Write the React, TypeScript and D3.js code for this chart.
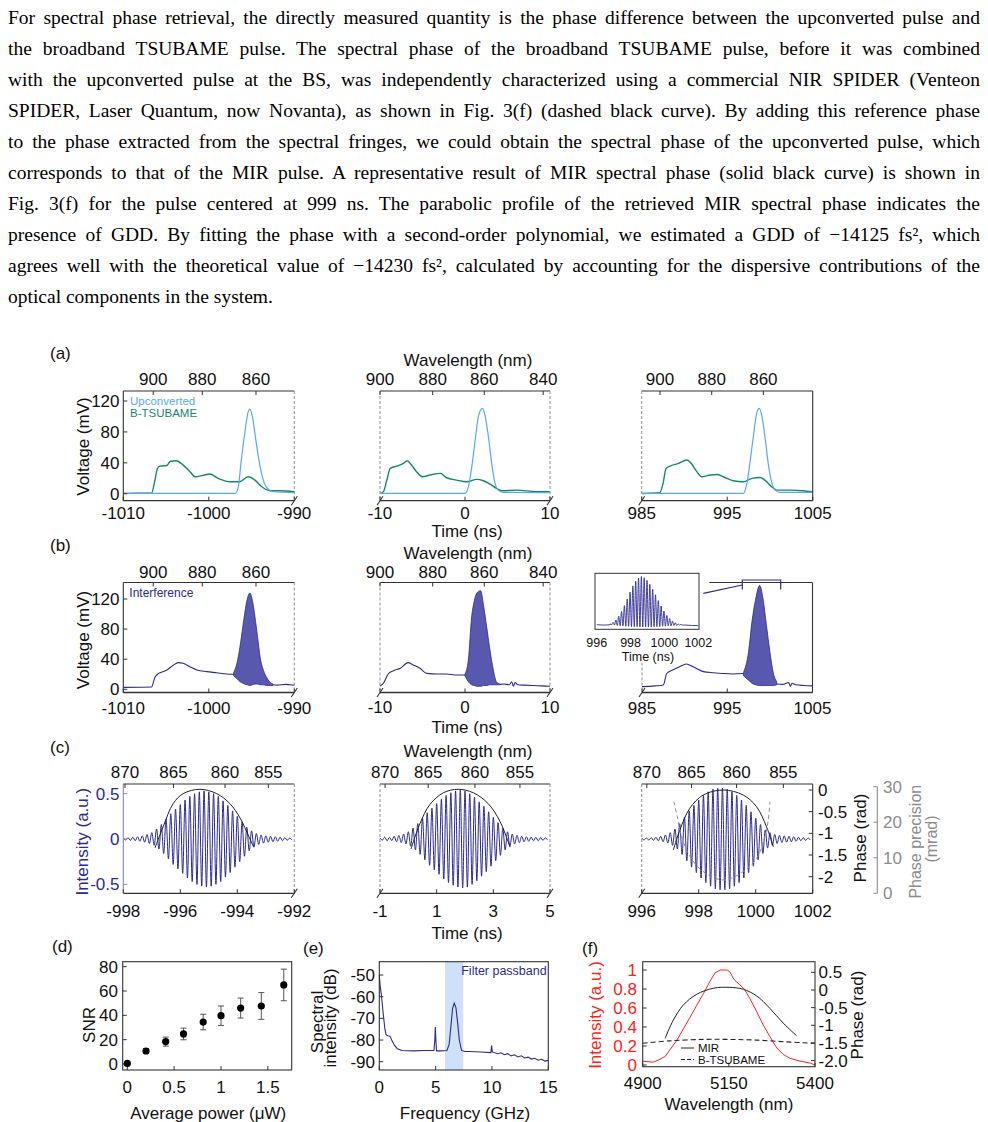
import React, { useLayoutEffect, useRef } from "react";
import * as d3 from "d3";

type P = [number, number];
type E = [number, number, number];

const SANS = "'Liberation Sans', Arial, Helvetica, sans-serif";
const SERIF = "'Liberation Serif', 'Times New Roman', serif";
const AX = "#333333";
const DASH = "#9a9a9a";
const BLUE = "#2b2b8f";
const LBLUE = "#5aa7f2";
const TEAL = "#17876b";
const RED = "#ff2020";
const GRAY = "#8c8c8c";
const FS = 17;

// ---------------- paragraph ----------------
const paraLines = [
  "For spectral phase retrieval, the directly measured quantity is the phase difference between the upconverted pulse and",
  "the broadband TSUBAME pulse. The spectral phase of the broadband TSUBAME pulse, before it was combined",
  "with the upconverted pulse at the BS, was independently characterized using a commercial NIR SPIDER (Venteon",
  "SPIDER, Laser Quantum, now Novanta), as shown in Fig. 3(f) (dashed black curve). By adding this reference phase",
  "to the phase extracted from the spectral fringes, we could obtain the spectral phase of the upconverted pulse, which",
  "corresponds to that of the MIR pulse. A representative result of MIR spectral phase (solid black curve) is shown in",
  "Fig. 3(f) for the pulse centered at 999 ns. The parabolic profile of the retrieved MIR spectral phase indicates the",
  "presence of GDD. By fitting the phase with a second-order polynomial, we estimated a GDD of \u221214125 fs\u00b2, which",
  "agrees well with the theoretical value of \u221214230 fs\u00b2, calculated by accounting for the dispersive contributions of the",
  "optical components in the system.",
];

// ---------------- shared ticks ----------------
const voltTicks = [0, 40, 80, 120];
const timeTicksL = [-1010, -1000, -990];
const timeTicksM = [-10, 0, 10];
const timeTicksR = [985, 995, 1005];
const wlTicksLR = [900, 880, 860];
const wlTicksM = [900, 880, 860, 840];
const wlTimeL = [-1006.5, -1000.76, -994.48];
const wlTimeM = [-10, -3.8, 2.27, 9.2];
const wlTimeR = [987.14, 993.19, 999.23];

// ---------------- (a) ----------------
const aL_tsu: P[] = [[-1010,0.5],[-1008.5,0.8],[-1006.7,0.6],[-1006.3,17.7],[-1006.0,33],[-1005.7,35.8],[-1004.9,36.5],[-1004.5,42],[-1003.8,42.7],[-1003.0,37],[-1002.2,28.5],[-1001.6,22],[-1000.6,24],[-999.9,25.5],[-998.9,20],[-997.5,15.5],[-996.4,15.5],[-995.4,22],[-994.6,17.7],[-993.8,9],[-992.8,3.9],[-991.7,3.9],[-990,2.6]];
const aL_up: P[] = [[-1010,0.4],[-998,0.4],[-996.9,0.6],[-996.55,9],[-996.2,43.6],[-995.8,78],[-995.4,106],[-995.2,109.6],[-994.9,99.7],[-994.5,69.5],[-994.0,35],[-993.5,13.4],[-993.0,5.6],[-992.5,2.6],[-990,1.3]];
const aM_tsu: P[] = [[-10,0.4],[-9.6,2.6],[-9.2,17.7],[-8.8,32.8],[-8.0,35.8],[-7.25,39.3],[-6.8,42.7],[-6.3,37.1],[-5.7,28.5],[-5.0,22],[-4.1,24.2],[-2.9,26.3],[-2.16,20.7],[-1.0,17.7],[0.2,15.5],[1.37,18.6],[2.16,16.8],[2.94,12.5],[3.7,6.9],[4.3,3.9],[6.1,4.7],[8.4,2.6],[10,2.6]];
const aM_up: P[] = [[-10,0.4],[-1,0.4],[0,0.6],[0.4,9],[0.8,35],[1.2,69.5],[1.57,99.7],[2.04,110.5],[2.35,101.9],[2.75,73.8],[3.14,39.3],[3.53,13.4],[3.9,4.7],[4.5,1.7],[10,1.3]];
const aR_tsu: P[] = [[985,0.4],[987.1,1.3],[987.5,13.4],[987.85,32.8],[988.3,35.8],[989.3,39.3],[990.3,43.6],[990.85,38.4],[991.4,29.3],[992.0,22],[993.0,24.2],[993.8,25],[994.55,22],[995.7,16.8],[996.9,15.5],[997.9,19.9],[998.85,21.1],[999.4,17.7],[1000.2,9],[1000.8,4.7],[1002.3,4.7],[1003.9,3.9],[1005,2.6]];
const aR_up: P[] = [[985,0.4],[996,0.4],[996.9,0.6],[997.3,13.4],[997.7,43.6],[998.1,78],[998.45,104],[998.76,110.5],[999.07,99.7],[999.46,69.5],[999.85,35],[1000.24,13.4],[1000.6,4.7],[1001.2,1.7],[1005,1.7]];

// ---------------- (b) ----------------
const bL_pre: P[] = [[-1010,2.5],[-1008,2.7],[-1006.7,3],[-1006.3,16],[-1006,20],[-1005.7,22],[-1004.9,25.7],[-1004.15,32],[-1003.6,35.4],[-1003,34.5],[-1002.2,30],[-1001.4,25.7],[-1000.25,23.5],[-999.1,22],[-997.9,20.4],[-997.1,20]];
const bL_env: E[] = [[-997.1,22,18],[-996.7,35,14],[-996.35,57,10],[-996.0,85,8],[-995.8,101,7],[-995.5,120,6],[-995.2,128,5],[-994.9,118,6],[-994.6,96,7],[-994.3,70,7],[-994.0,43,6],[-993.6,25,6],[-993.2,15,5],[-992.8,9,5],[-992.5,7,5]];
const bL_post: P[] = [[-992.5,6],[-992,5.5],[-991,6.5],[-990.5,6],[-990,5.5]];
const bM_pre: P[] = [[-10,4.4],[-9.6,8],[-9.0,21],[-8.4,24.8],[-7.6,27.9],[-6.7,35.4],[-6.1,32.3],[-5.3,27.9],[-4.5,21.2],[-3.3,20.4],[-2.2,20.4],[-1.0,19],[0,19]];
const bM_env: E[] = [[0,20,18],[0.4,40,10],[0.78,96,6],[1.1,118,5],[1.4,128,4],[1.84,131,4],[2.2,110,5],[2.55,83,5],[2.9,55,6],[3.33,26,6],[3.7,10,6],[4.1,7,6]];
const bM_post: P[] = [[4.1,6.5],[4.6,7],[5.2,6],[5.5,10],[5.7,4],[5.9,9],[6.2,6],[7,5.5],[8,5],[9,4.5],[10,4]];
const bR_pre: P[] = [[985,3.5],[986.5,4.5],[987.5,5.8],[987.9,21],[988.6,25.7],[989.4,30],[990.2,33.6],[991,30],[992.2,23.5],[993.4,22],[994.5,21],[995.7,20.4],[996.9,21]];
const bR_env: E[] = [[996.9,22,18],[997.5,50,12],[997.9,90,8],[998.3,118,6],[998.8,138,5],[999.2,120,5],[999.6,85,5],[1000,50,5],[1000.4,22,5],[1000.8,10,6]];
const bR_post: P[] = [[1000.8,7],[1001.5,6.5],[1002.2,9],[1002.4,4],[1002.6,8],[1003,6],[1004,5],[1005,4.5]];
// inset fringes (tops / bottoms of each fringe)
const insetTicks = [996, 998, 1000, 1002];
const insetStart = 996.8;
const insetPeriod = 0.167;
const insetPre: P[] = [[996,6],[996.4,5],[996.8,6]];
const insetTops = [8,12,18,28,40,55,72,90,106,118,126,130,127,120,110,97,83,68,54,41,30,22,15,11,8,7];
const insetBots = [6,5,4,3,3,2,2,1,1,1,0,0,0,0,0,1,1,1,2,2,3,3,4,4,5,5];
const insetPost: P[] = [[1001.2,5],[1001.6,4],[1002,3.5]];

// ---------------- (c) ----------------
const wlTicksC = [870, 865, 860, 855];
const wlTimeCL = [-997.94, -996.24, -994.43, -992.91];
const wlTimeCM = [-0.82, 0.7, 2.35, 3.94];
const wlTimeCR = [996.18, 997.75, 999.33, 1000.97];
const cTicksL = [-998, -996, -994, -992];
const cTicksM = [-1, 1, 3, 5];
const cTicksR = [996, 998, 1000, 1002];
const intTicks = [0.5, 0, -0.5];
const phaseTicks = [0, -0.5, -1, -1.5, -2];
const precTicks = [0, 10, 20, 30];
const fringePeriod = 0.1667;
const cAmpL = [0.01,0.015,0.02,0.025,0.035,0.05,0.07,0.11,0.16,0.22,0.28,0.33,0.38,0.43,0.47,0.5,0.52,0.53,0.52,0.5,0.47,0.42,0.37,0.31,0.25,0.19,0.13,0.09,0.06,0.045,0.035,0.03,0.025,0.02,0.015,0.01];
const cAmpM = [0.012,0.02,0.018,0.03,0.04,0.055,0.08,0.12,0.17,0.23,0.29,0.34,0.39,0.44,0.48,0.51,0.53,0.54,0.53,0.5,0.46,0.41,0.36,0.3,0.24,0.18,0.12,0.08,0.055,0.04,0.03,0.025,0.02,0.02,0.015,0.012];
const cAmpR = [0.01,0.012,0.015,0.02,0.03,0.045,0.07,0.11,0.17,0.24,0.31,0.37,0.43,0.48,0.52,0.55,0.56,0.56,0.55,0.52,0.48,0.43,0.37,0.3,0.23,0.16,0.1,0.07,0.05,0.04,0.035,0.03,0.025,0.02,0.015,0.01];
const cEnvL: P[] = [[-996.89,-0.1],[-996.6,0.136],[-996.25,0.39],[-995.9,0.5],[-995.31,0.548],[-994.72,0.5],[-994.26,0.39],[-993.9,0.23],[-993.6,0.03],[-993.43,-0.085]];
const cEnvM: P[] = [[0.094,-0.11],[0.41,0.17],[0.76,0.38],[1.24,0.51],[1.76,0.548],[2.29,0.51],[2.82,0.39],[3.24,0.19],[3.59,-0.09]];
const cPhaseR: P[] = [[997.11,-1.385],[997.34,-0.92],[997.69,-0.42],[998.16,-0.115],[998.86,0],[999.56,-0.115],[1000.03,-0.385],[1000.38,-0.85],[1000.62,-1.31]];
const cPrecR: P[] = [[997.13,25.8],[997.25,21.5],[997.4,15.9],[997.7,10.3],[998.16,6.1],[998.86,3.75],[999.56,6.1],[1000.03,9.8],[1000.32,15.9],[1000.44,20.6],[1000.5,25.8]];

// ---------------- (d) ----------------
const dPower = [0, 0.2, 0.41, 0.6, 0.81, 1.0, 1.21, 1.43, 1.67];
const dSNR = [0.5, 10.7, 18.4, 24.7, 34.5, 39.7, 46, 47.7, 65];
const dErr = [0, 2, 3.7, 4.8, 6.4, 8, 8.2, 11, 13];
const dTicksX = [0, 0.5, 1, 1.5];
const dTicksY = [0, 20, 40, 60, 80];

// ---------------- (e) ----------------
const eSpec: P[] = [[0,-50],[0.08,-55],[0.2,-60],[0.35,-68],[0.5,-75],[0.6,-77.5],[0.75,-78],[0.95,-78.2],[1.1,-80],[1.35,-82.5],[1.6,-84],[2,-84.8],[3,-85],[4,-84.8],[4.85,-84.8],[4.93,-80],[4.97,-74],[5.02,-80],[5.08,-85],[5.5,-85],[6.0,-84.8],[6.2,-82],[6.35,-74],[6.5,-65.5],[6.65,-63],[6.8,-65],[6.95,-72],[7.1,-80],[7.3,-84.8],[7.6,-85.3],[8,-85.3],[9,-85.5],[9.9,-85.8],[9.97,-82.5],[10.03,-85.5],[10.5,-86.3],[10.8,-85.9],[11.1,-86.8],[11.4,-86.3],[11.7,-87.3],[12.0,-86.8],[12.3,-87.8],[12.6,-87.3],[12.9,-88.3],[13.2,-87.9],[13.5,-88.8],[13.8,-88.4],[14.1,-89.3],[14.4,-88.9],[14.7,-89.7],[15,-89.4]];
const ePassband = [5.83, 7.45];
const eTicksX = [0, 5, 10, 15];
const eTicksY = [-50, -60, -70, -80, -90];

// ---------------- (f) ----------------
const fInt: P[] = [[4900,0.04],[4931,0.03],[4950,0.06],[4965,0.09],[4979,0.16],[4999,0.26],[5018,0.38],[5037,0.5],[5057,0.63],[5076,0.75],[5095,0.88],[5110,0.97],[5125,1.0],[5145,1.0],[5153,0.98],[5165,0.9],[5180,0.85],[5195,0.8],[5211,0.7],[5231,0.56],[5250,0.42],[5269,0.3],[5289,0.18],[5308,0.11],[5328,0.07],[5357,0.04],[5386,0.02],[5400,0.0]];
const fMIR: P[] = [[4965,-1.37],[4989,-0.85],[5018,-0.425],[5057,-0.12],[5105,0.05],[5151,0.076],[5192,0.02],[5231,-0.17],[5269,-0.52],[5308,-0.94],[5347,-1.3]];
const fTsu: P[] = [[4900,-1.51],[4979,-1.44],[5076,-1.4],[5153,-1.4],[5231,-1.42],[5318,-1.47],[5400,-1.51]];
const fTicksX = [4900, 5150, 5400];
const fTicksL = [0, 0.2, 0.4, 0.6, 0.8, 1];
const fTicksR = [0.5, 0, -0.5, -1, -1.5, -2];
const fTicksRLabels = ["0.5", "0", "-0.5", "-1", "-1.5", "-2.0"];

// ---------------- helpers ----------------
const ln = (xs: any, ys: any, data: P[], curve: any = d3.curveMonotoneX) =>
  d3.line<P>().x((d) => xs(d[0])).y((d) => ys(d[1])).curve(curve)(data) || "";
const ar = (xs: any, ys: any, data: E[]) =>
  d3.area<E>().x((d) => xs(d[0])).y0((d) => ys(d[2])).y1((d) => ys(d[1])).curve(d3.curveMonotoneX)(data) || "";
const fringe = (start: number, period: number, amps: number[]): P[] => {
  const out: P[] = [];
  amps.forEach((a, k) => {
    out.push([start + k * period, a]);
    out.push([start + (k + 0.5) * period, -a]);
  });
  return out;
};

function Txt(props: any) {
  const { size = FS, color = "#111", anchor = "middle", rot, x, y, children, ...rest } = props;
  if (rot) {
    return (
      <text transform={`translate(${x},${y}) rotate(-90)`} textAnchor={anchor} dy="0.35em" fontFamily={SANS} fontSize={size} fill={color} {...rest}>
        {children}
      </text>
    );
  }
  return (
    <text x={x} y={y} textAnchor={anchor} dy="0.35em" fontFamily={SANS} fontSize={size} fill={color} {...rest}>
      {children}
    </text>
  );
}

function HTicks({ pos, vals, y, dir, labelY, labels, size = FS, color = "#111" }: any) {
  return (
    <g>
      {vals.map((v: number, i: number) => (
        <g key={i}>
          <line x1={pos(v)} x2={pos(v)} y1={y} y2={y + dir * 4} stroke={AX} strokeWidth={1} />
          {labelY != null && (
            <Txt x={pos(v)} y={labelY} size={size} color={color}>
              {labels ? labels[i] : String(v)}
            </Txt>
          )}
        </g>
      ))}
    </g>
  );
}

function VTicks({ ys, vals, x, dir, labelX, anchor = "end", labels, size = FS, color = "#111", tickColor = AX }: any) {
  return (
    <g>
      {vals.map((v: number, i: number) => (
        <g key={i}>
          <line x1={x} x2={x + dir * 4} y1={ys(v)} y2={ys(v)} stroke={tickColor} strokeWidth={1} />
          <Txt x={labelX} y={ys(v)} anchor={anchor} size={size} color={color}>
            {labels ? labels[i] : String(v)}
          </Txt>
        </g>
      ))}
    </g>
  );
}

function Brk({ x, y }: any) {
  return <line x1={x - 3} y1={y + 4.5} x2={x + 3} y2={y - 4.5} stroke={AX} strokeWidth={1.1} />;
}

function Panel({ xs, y0, y1, pos, ticks, tickLabelY, wlLabels, wlTimes, wlLabelY, topFrom, leftColor, children }: any) {
  const [x0, x1] = xs.range();
  const wl = wlLabels ? d3.scaleLinear().domain(wlLabels).range(wlTimes) : null;
  return (
    <g>
      {children}
      <line x1={topFrom ?? x0} x2={x1} y1={y0} y2={y0} stroke={AX} strokeWidth={1.1} />
      <line x1={x0} x2={x1} y1={y1} y2={y1} stroke={AX} strokeWidth={1.3} />
      {pos === "L" ? (
        <line x1={x0} x2={x0} y1={y0} y2={y1} stroke={leftColor || AX} strokeWidth={1.1} />
      ) : (
        <line x1={x0} x2={x0} y1={y0} y2={y1} stroke={DASH} strokeWidth={1.1} strokeDasharray="3 2" />
      )}
      {pos === "R" ? (
        <line x1={x1} x2={x1} y1={y0} y2={y1} stroke={AX} strokeWidth={1.1} />
      ) : (
        <line x1={x1} x2={x1} y1={y0} y2={y1} stroke={DASH} strokeWidth={1.1} strokeDasharray="3 2" />
      )}
      {pos !== "L" && <Brk x={x0} y={y1} />}
      {pos !== "R" && <Brk x={x1} y={y1} />}
      <HTicks pos={xs} vals={ticks} y={y1} dir={-1} labelY={tickLabelY} />
      {wl && <HTicks pos={(w: number) => xs(wl(w))} vals={wlLabels} y={y0} dir={1} labelY={wlLabelY} />}
    </g>
  );
}

// ---------------- rows ----------------
const colL = [123.3, 294.3];
const colM = [380, 550];
const colR = [641.7, 812.7];

function RowA() {
  const y0 = 391, y1 = 500.7;
  const ys = d3.scaleLinear().domain([0, 120]).range([493.75, 401]);
  const xl = d3.scaleLinear().domain([-1010, -990]).range(colL);
  const xm = d3.scaleLinear().domain([-10, 10]).range(colM);
  const xr = d3.scaleLinear().domain([985, 1005]).range(colR);
  return (
    <g>
      <Txt x={50} y={353} anchor="start">(a)</Txt>
      <Panel xs={xl} y0={y0} y1={y1} pos="L" ticks={timeTicksL} tickLabelY={512.7} wlLabels={wlTicksLR} wlTimes={wlTimeL} wlLabelY={379.3}>
        <path d={ln(xl, ys, aL_tsu)} fill="none" stroke={TEAL} strokeWidth={1.4} />
        <path d={ln(xl, ys, aL_up)} fill="none" stroke={LBLUE} strokeWidth={1.2} />
      </Panel>
      <VTicks ys={ys} vals={voltTicks} x={colL[0]} dir={1} labelX={119.5} />
      <Txt x={83.3} y={446.5} rot>Voltage (mV)</Txt>
      <Txt x={130} y={401.3} anchor="start" size={11.5} color={LBLUE}>Upconverted</Txt>
      <Txt x={130} y={413} anchor="start" size={11.5} color={TEAL}>B-TSUBAME</Txt>

      <Panel xs={xm} y0={y0} y1={y1} pos="M" ticks={timeTicksM} tickLabelY={512.7} wlLabels={wlTicksM} wlTimes={wlTimeM} wlLabelY={379.3}>
        <path d={ln(xm, ys, aM_tsu)} fill="none" stroke={TEAL} strokeWidth={1.4} />
        <path d={ln(xm, ys, aM_up)} fill="none" stroke={LBLUE} strokeWidth={1.2} />
      </Panel>
      <Txt x={468} y={360}>Wavelength (nm)</Txt>
      <Txt x={467} y={531}>Time (ns)</Txt>

      <Panel xs={xr} y0={y0} y1={y1} pos="R" ticks={timeTicksR} tickLabelY={512.7} wlLabels={wlTicksLR} wlTimes={wlTimeR} wlLabelY={379.3}>
        <path d={ln(xr, ys, aR_tsu)} fill="none" stroke={TEAL} strokeWidth={1.4} />
        <path d={ln(xr, ys, aR_up)} fill="none" stroke={LBLUE} strokeWidth={1.2} />
      </Panel>
    </g>
  );
}

function RowB() {
  const y0 = 582.5, y1 = 692.5;
  const ys = d3.scaleLinear().domain([0, 120]).range([689.3, 599]);
  const xl = d3.scaleLinear().domain([-1010, -990]).range(colL);
  const xm = d3.scaleLinear().domain([-10, 10]).range(colM);
  const xr = d3.scaleLinear().domain([985, 1005]).range([642, 812.5]);
  const xi = d3.scaleLinear().domain([996, 1002]).range([596.7, 698.3]);
  const yi = d3.scaleLinear().domain([0, 128]).range([627, 577.3]);
  const insetPts: P[] = [...insetPre];
  insetTops.forEach((t, k) => {
    insetPts.push([insetStart + k * insetPeriod, t]);
    insetPts.push([insetStart + (k + 0.5) * insetPeriod, insetBots[k]]);
  });
  insetPost.forEach((p) => insetPts.push(p));
  const fringeFill = "#4646a6";
  return (
    <g>
      <Txt x={50} y={545} anchor="start">(b)</Txt>
      <Panel xs={xl} y0={y0} y1={y1} pos="L" ticks={timeTicksL} tickLabelY={708} wlLabels={wlTicksLR} wlTimes={wlTimeL} wlLabelY={571.7}>
        <path d={ln(xl, ys, bL_pre)} fill="none" stroke={BLUE} strokeWidth={1.1} />
        <path d={ar(xl, ys, bL_env)} fill={fringeFill} stroke={BLUE} strokeWidth={0.8} fillOpacity={0.9} />
        <path d={ln(xl, ys, bL_post)} fill="none" stroke={BLUE} strokeWidth={1.1} />
      </Panel>
      <VTicks ys={ys} vals={voltTicks} x={colL[0]} dir={1} labelX={119.5} />
      <Txt x={83.3} y={640} rot>Voltage (mV)</Txt>
      <Txt x={129.3} y={592.7} anchor="start" size={12} color={BLUE}>Interference</Txt>

      <Panel xs={xm} y0={y0} y1={y1} pos="M" ticks={timeTicksM} tickLabelY={707.5} wlLabels={wlTicksM} wlTimes={wlTimeM} wlLabelY={571.7}>
        <path d={ln(xm, ys, bM_pre)} fill="none" stroke={BLUE} strokeWidth={1.1} />
        <path d={ar(xm, ys, bM_env)} fill={fringeFill} stroke={BLUE} strokeWidth={0.8} fillOpacity={0.9} />
        <path d={ln(xm, ys, bM_post)} fill="none" stroke={BLUE} strokeWidth={1.1} />
      </Panel>
      <Txt x={468} y={552.7}>Wavelength (nm)</Txt>
      <Txt x={467} y={727}>Time (ns)</Txt>

      <Panel xs={xr} y0={y0} y1={y1} pos="R" ticks={timeTicksR} tickLabelY={708} topFrom={709.3}>
        <path d={ln(xr, ys, bR_pre)} fill="none" stroke={BLUE} strokeWidth={1.1} />
        <path d={ar(xr, ys, bR_env)} fill={fringeFill} stroke={BLUE} strokeWidth={0.8} fillOpacity={0.9} />
        <path d={ln(xr, ys, bR_post)} fill="none" stroke={BLUE} strokeWidth={1.1} />
      </Panel>
      {/* inset */}
      <rect x={584} y={566} width={121} height={97} fill="#fff" />
      <rect x={595} y={573.3} width={104} height={56} fill="#fff" stroke={AX} strokeWidth={1} />
      <path d={ln(xi, yi, insetPts)} fill="none" stroke={BLUE} strokeWidth={0.9} />
      {insetTicks.map((v, i) => (
        <Txt key={i} x={xi(v)} y={642.7} size={12.5}>{String(v)}</Txt>
      ))}
      <Txt x={648} y={656.5} size={12.5}>Time (ns)</Txt>
      <line x1={703.3} y1={593.3} x2={742.3} y2={585} stroke={BLUE} strokeWidth={1.2} />
      <path d="M742.3,589.5 V580 H780.7 V589.5" fill="none" stroke={BLUE} strokeWidth={1.2} />
    </g>
  );
}

function RowC() {
  const y0 = 784, y1 = 893.3;
  const ys = d3.scaleLinear().domain([0, 0.5]).range([839, 793.65]);
  const xl = d3.scaleLinear().domain([-998, -992]).range(colL);
  const xm = d3.scaleLinear().domain([-1, 5]).range(colM);
  const xr = d3.scaleLinear().domain([996, 1002]).range(colR);
  const yp = d3.scaleLinear().domain([0, -2]).range([790, 876.7]);
  const yq = d3.scaleLinear().domain([0, 30]).range([893.3, 786.7]);
  const fc = BLUE;
  return (
    <g>
      <Txt x={50} y={746.7} anchor="start">(c)</Txt>
      <Panel xs={xl} y0={y0} y1={y1} pos="L" ticks={cTicksL} tickLabelY={911} wlLabels={wlTicksC} wlTimes={wlTimeCL} wlLabelY={771.7} leftColor="#8585c8">
        <path d={ln(xl, ys, fringe(-998, fringePeriod, cAmpL))} fill="none" stroke={fc} strokeWidth={1} />
        <path d={ln(xl, ys, cEnvL, d3.curveCatmullRom)} fill="none" stroke="#222" strokeWidth={1} />
      </Panel>
      <VTicks ys={ys} vals={intTicks} x={colL[0]} dir={1} labelX={119.5} color={BLUE} tickColor="#8585c8" />
      <Txt x={81.7} y={841.7} rot color={BLUE}>Intensity (a.u.)</Txt>

      <Panel xs={xm} y0={y0} y1={y1} pos="M" ticks={cTicksM} tickLabelY={911} wlLabels={wlTicksC} wlTimes={wlTimeCM} wlLabelY={771.7}>
        <path d={ln(xm, ys, fringe(-1, fringePeriod, cAmpM))} fill="none" stroke={fc} strokeWidth={1} />
        <path d={ln(xm, ys, cEnvM, d3.curveCatmullRom)} fill="none" stroke="#222" strokeWidth={1} />
      </Panel>
      <Txt x={468} y={750.7}>Wavelength (nm)</Txt>
      <Txt x={467} y={933}>Time (ns)</Txt>

      <Panel xs={xr} y0={y0} y1={y1} pos="R" ticks={cTicksR} tickLabelY={911} wlLabels={wlTicksC} wlTimes={wlTimeCR} wlLabelY={771.7}>
        <path d={ln(xr, ys, fringe(996, fringePeriod, cAmpR))} fill="none" stroke={fc} strokeWidth={1} />
        <path d={ln(xr, yp, cPhaseR, d3.curveCatmullRom)} fill="none" stroke="#222" strokeWidth={1} />
        <path d={ln(xr, yq, cPrecR, d3.curveCatmullRom)} fill="none" stroke={GRAY} strokeWidth={1} strokeDasharray="4 3" />
      </Panel>
      <VTicks ys={yp} vals={phaseTicks} x={colR[1]} dir={-1} labelX={818} anchor="start" />
      <Txt x={860} y={838} rot>Phase (rad)</Txt>
      <line x1={877.3} x2={877.3} y1={786.7} y2={893.3} stroke={GRAY} strokeWidth={1.1} />
      <VTicks ys={yq} vals={precTicks} x={877.3} dir={-1} labelX={883} anchor="start" color={GRAY} tickColor={GRAY} />
      <Txt x={915} y={841.7} rot size={16} color={GRAY}>Phase precision</Txt>
      <Txt x={931} y={839} rot size={16} color={GRAY}>(mrad)</Txt>
    </g>
  );
}

function Box({ x0, x1, y0, y1 }: any) {
  return <rect x={x0} y={y0} width={x1 - x0} height={y1 - y0} fill="none" stroke={AX} strokeWidth={1.1} />;
}

function RowD() {
  const x0 = 122.7, x1 = 291.7, y0 = 961.7, y1 = 1070;
  const xs = d3.scaleLinear().domain([0, 1]).range([127.3, 221]);
  const ys = d3.scaleLinear().domain([0, 80]).range([1064, 966.7]);
  return (
    <g>
      <Txt x={52} y={946} anchor="start">(d)</Txt>
      <Box x0={x0} x1={x1} y0={y0} y1={y1} />
      <HTicks pos={xs} vals={dTicksX} y={y1} dir={-1} labelY={1086.7} />
      <VTicks ys={ys} vals={dTicksY} x={x0} dir={1} labelX={118} />
      {dPower.map((p, i) => (
        <g key={i}>
          {dErr[i] > 0 && (
            <g stroke="#555" strokeWidth={1}>
              <line x1={xs(p)} x2={xs(p)} y1={ys(dSNR[i] - dErr[i])} y2={ys(dSNR[i] + dErr[i])} />
              <line x1={xs(p) - 3} x2={xs(p) + 3} y1={ys(dSNR[i] - dErr[i])} y2={ys(dSNR[i] - dErr[i])} />
              <line x1={xs(p) - 3} x2={xs(p) + 3} y1={ys(dSNR[i] + dErr[i])} y2={ys(dSNR[i] + dErr[i])} />
            </g>
          )}
          <circle cx={xs(p)} cy={ys(dSNR[i])} r={3.6} fill="#000" />
        </g>
      ))}
      <Txt x={89.3} y={1025} rot>SNR</Txt>
      <Txt x={208.3} y={1113.3}>Average power (μW)</Txt>
    </g>
  );
}

function RowE() {
  const x0 = 379.3, x1 = 548.3, y0 = 961.7, y1 = 1070;
  const xs = d3.scaleLinear().domain([0, 15]).range([x0, x1]);
  const ys = d3.scaleLinear().domain([-50, -90]).range([975, 1061.7]);
  return (
    <g>
      <Txt x={303} y={948} anchor="start">(e)</Txt>
      <rect x={xs(ePassband[0])} y={y0} width={xs(ePassband[1]) - xs(ePassband[0])} height={y1 - y0} fill="#cfe0fb" />
      <path d={ln(xs, ys, eSpec, d3.curveLinear)} fill="none" stroke={BLUE} strokeWidth={1.1} />
      <Box x0={x0} x1={x1} y0={y0} y1={y1} />
      <HTicks pos={xs} vals={eTicksX} y={y1} dir={-1} labelY={1086.7} />
      <VTicks ys={ys} vals={eTicksY} x={x0} dir={1} labelX={375} />
      <Txt x={546.7} y={970.7} anchor="end" size={12.5} color={BLUE}>Filter passband</Txt>
      <Txt x={316.7} y={1022} rot>Spectral</Txt>
      <Txt x={330} y={1018} rot>intensity (dB)</Txt>
      <Txt x={465} y={1113}>Frequency (GHz)</Txt>
    </g>
  );
}

function RowF() {
  const x0 = 642.7, x1 = 815, y0 = 961.7, y1 = 1066.7;
  const xs = d3.scaleLinear().domain([4900, 5400]).range([x0, x1]);
  const yl = d3.scaleLinear().domain([0, 1]).range([1065, 970]);
  const yr = d3.scaleLinear().domain([0, -2]).range([990, 1060.6]);
  return (
    <g>
      <Txt x={582} y={948} anchor="start">(f)</Txt>
      <path d={ln(xs, yl, fInt, d3.curveLinear)} fill="none" stroke={RED} strokeWidth={1} />
      <path d={ln(xs, yr, fMIR, d3.curveCatmullRom)} fill="none" stroke="#222" strokeWidth={1} />
      <path d={ln(xs, yr, fTsu, d3.curveCatmullRom)} fill="none" stroke="#222" strokeWidth={1.1} strokeDasharray="5 3" />
      <Box x0={x0} x1={x1} y0={y0} y1={y1} />
      <HTicks pos={xs} vals={fTicksX} y={y1} dir={-1} labelY={1083.3} />
      <VTicks ys={yl} vals={fTicksL} x={x0} dir={1} labelX={637} color={RED} />
      <VTicks ys={yr} vals={fTicksR} x={x1} dir={-1} labelX={818.5} anchor="start" labels={fTicksRLabels} />
      <line x1={681} x2={694} y1={1048} y2={1048} stroke="#222" strokeWidth={1} />
      <Txt x={698} y={1048} anchor="start" size={11.5}>MIR</Txt>
      <line x1={681} x2={694} y1={1059.5} y2={1059.5} stroke="#222" strokeWidth={1} strokeDasharray="4 2" />
      <Txt x={698} y={1059.5} anchor="start" size={11.5}>B-TSUBAME</Txt>
      <Txt x={595} y={1015} rot color={RED}>Intensity (a.u.)</Txt>
      <Txt x={857.3} y={1015} rot>Phase (rad)</Txt>
      <Txt x={729} y={1104}>Wavelength (nm)</Txt>
    </g>
  );
}

export default function App() {
  const ref = useRef<SVGSVGElement>(null);
  useLayoutEffect(() => {
    const svg = ref.current;
    if (!svg) return;
    svg.querySelectorAll("text[data-jw]").forEach((el: any) => {
      el.style.wordSpacing = "0px";
      const w = el.getComputedTextLength();
      const n = (el.textContent || "").split(" ").length - 1;
      const target = Number(el.getAttribute("data-jw"));
      if (n > 0) el.style.wordSpacing = `${(target - w) / n}px`;
    });
  }, []);
  return (
    <svg ref={ref} width={988} height={1122} style={{ position: "absolute", left: 0, top: 0, background: "#fff" }}>
      <rect x={0} y={0} width={988} height={1122} fill="#fff" />
      <g fontFamily={SERIF} fontSize={19.5} fill="#000">
        {paraLines.map((s, i) => (
          <text key={i} x={8} y={24 + i * 31} data-jw={i < paraLines.length - 1 ? 972 : undefined}>
            {s}
          </text>
        ))}
      </g>
      <RowA />
      <RowB />
      <RowC />
      <RowD />
      <RowE />
      <RowF />
    </svg>
  );
}
